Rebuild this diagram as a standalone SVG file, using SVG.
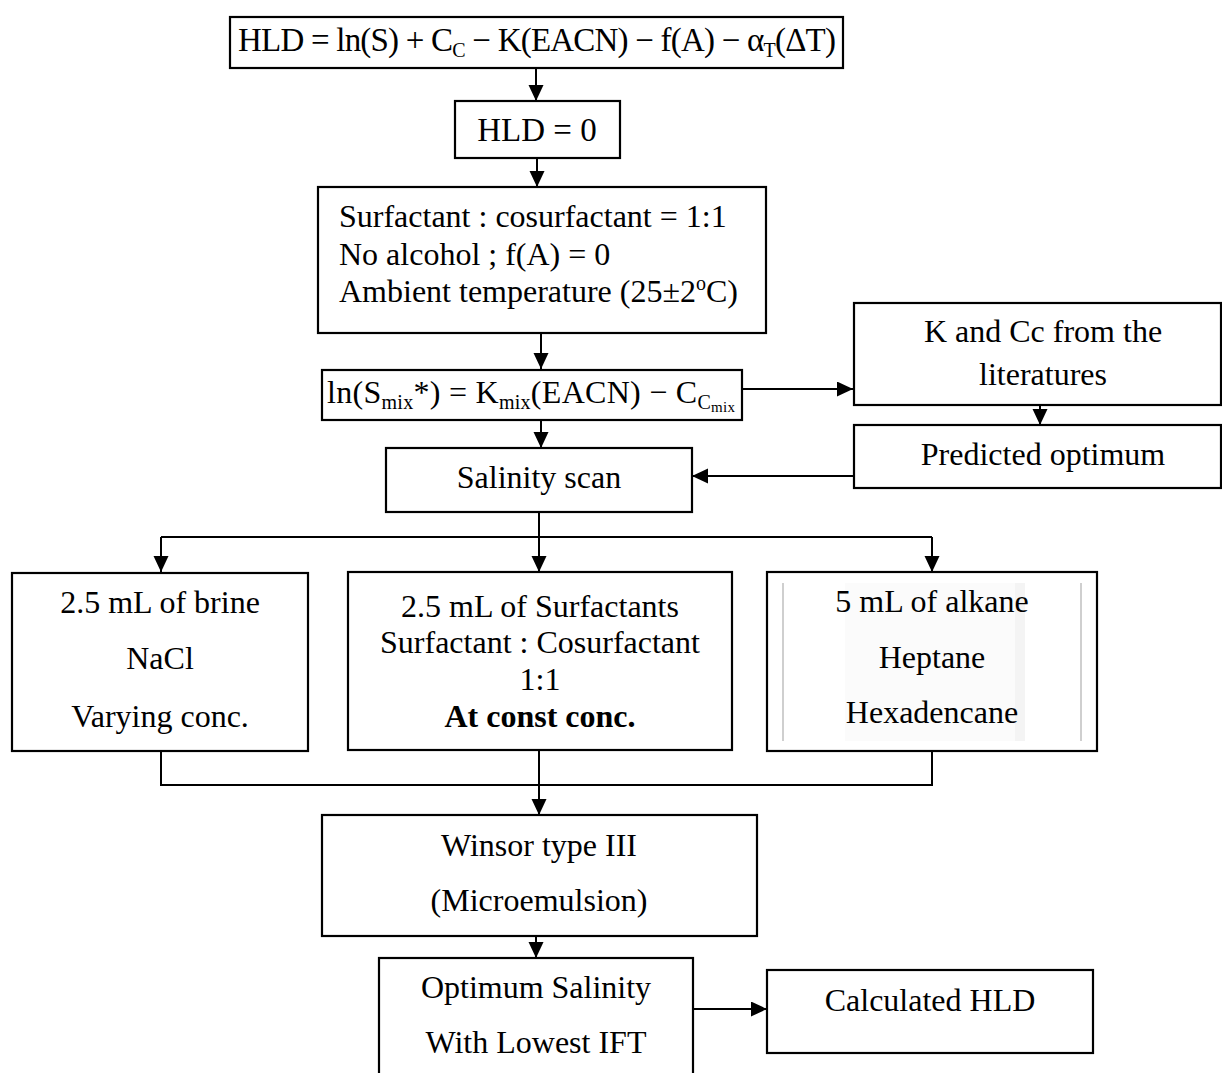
<svg xmlns="http://www.w3.org/2000/svg" width="1222" height="1073" viewBox="0 0 1222 1073">
<defs>
<marker id="ah" markerUnits="userSpaceOnUse" markerWidth="16" markerHeight="16" refX="16" refY="7.5" orient="auto">
<path d="M0,0 L16,7.5 L0,15 z" fill="#000"/>
</marker>
<style>
.box{fill:#fff;stroke:#000;stroke-width:2.2}
.t{font-family:"Liberation Serif","Times New Roman",serif;font-size:32px;fill:#000}
.c{text-anchor:middle}
.b{font-weight:bold}
.ln{fill:none;stroke:#000;stroke-width:2}
.ar{fill:none;stroke:#000;stroke-width:2;marker-end:url(#ah)}
.sub{font-size:20px}
.ghost{stroke:#cfcfcf;stroke-width:2}
</style>
</defs>
<rect width="1222" height="1073" fill="#fff"/>

<g id="connectors">
<line class="ar" x1="536" y1="68" x2="536" y2="101"/>
<line class="ar" x1="537" y1="158" x2="537" y2="187"/>
<line class="ar" x1="541" y1="333" x2="541" y2="369"/>
<line class="ar" x1="742" y1="389" x2="853" y2="389"/>
<line class="ar" x1="1040" y1="405" x2="1040" y2="425"/>
<line class="ar" x1="541" y1="420" x2="541" y2="448"/>
<line class="ar" x1="853" y1="476" x2="692" y2="476"/>
<line class="ar" x1="539" y1="512" x2="539" y2="572"/>
<line class="ln" x1="161" y1="537" x2="932" y2="537"/>
<line class="ar" x1="161" y1="537" x2="161" y2="572"/>
<line class="ar" x1="932" y1="537" x2="932" y2="572"/>
<polyline class="ln" points="161,751 161,785 932,785 932,751"/>
<line class="ar" x1="539" y1="750" x2="539" y2="815"/>
<line class="ar" x1="536" y1="936" x2="536" y2="958"/>
<line class="ar" x1="693" y1="1009" x2="767" y2="1009"/>
</g>

<g id="hld-formula">
<rect class="box" x="230" y="17" width="613" height="51"/>
<text class="t c" x="537" y="51" style="font-size:33px" textLength="598" lengthAdjust="spacing">HLD = ln(S) + C<tspan class="sub" dy="6">C</tspan><tspan dy="-6"> − K(EACN) − f(A) − α</tspan><tspan class="sub" dy="6">T</tspan><tspan dy="-6">(ΔT)</tspan></text>
</g>

<g id="hld-zero">
<rect class="box" x="455" y="101" width="165" height="57"/>
<text class="t c" x="537" y="141" style="font-size:33px">HLD = 0</text>
</g>

<g id="conditions">
<rect class="box" x="318" y="187" width="448" height="146"/>
<text class="t" x="339" y="227">Surfactant : cosurfactant = 1:1</text>
<text class="t" x="339" y="265">No alcohol ; f(A) = 0</text>
<text class="t" x="339" y="302">Ambient temperature (25±2<tspan class="sub" dy="-12">o</tspan><tspan dy="12">C)</tspan></text>
</g>

<g id="ln-formula">
<rect class="box" x="322" y="370" width="420" height="50"/>
<text class="t" x="327" y="403" textLength="408" lengthAdjust="spacing">ln(S<tspan class="sub" dy="6">mix</tspan><tspan dy="-6">*) = K</tspan><tspan class="sub" dy="6">mix</tspan><tspan dy="-6">(EACN) − C</tspan><tspan class="sub" dy="6">C</tspan><tspan style="font-size:15px" dy="3">mix</tspan></text>
</g>

<g id="k-cc">
<rect class="box" x="854" y="303" width="367" height="102"/>
<text class="t c" x="1043" y="342">K and Cc from the</text>
<text class="t c" x="1043" y="385">literatures</text>
</g>

<g id="predicted">
<rect class="box" x="854" y="425" width="367" height="63"/>
<text class="t c" x="1043" y="465">Predicted optimum</text>
</g>

<g id="salinity-scan">
<rect class="box" x="386" y="448" width="306" height="64"/>
<text class="t c" x="539" y="488">Salinity scan</text>
</g>

<g id="brine">
<rect class="box" x="12" y="573" width="296" height="178"/>
<text class="t c" x="160" y="613">2.5 mL of brine</text>
<text class="t c" x="160" y="669">NaCl</text>
<text class="t c" x="160" y="727">Varying conc.</text>
</g>

<g id="surfactants">
<rect class="box" x="348" y="572" width="384" height="178"/>
<text class="t c" x="540" y="617">2.5 mL of Surfactants</text>
<text class="t c" x="540" y="653">Surfactant : Cosurfactant</text>
<text class="t c" x="540" y="690">1:1</text>
<text class="t c b" x="540" y="727">At const conc.</text>
</g>

<g id="alkane">
<rect class="box" x="767" y="572" width="330" height="179"/>
<rect x="845" y="583" width="170" height="158" fill="#fbfbfb"/>
<rect x="1015" y="583" width="10" height="158" fill="#f4f4f4"/>
<line class="ghost" x1="783" y1="583" x2="783" y2="741"/>
<line class="ghost" x1="1081" y1="583" x2="1081" y2="741"/>
<text class="t c" x="932" y="612">5 mL of alkane</text>
<text class="t c" x="932" y="668">Heptane</text>
<text class="t c" x="932" y="723">Hexadencane</text>
</g>

<g id="winsor">
<rect class="box" x="322" y="815" width="435" height="121"/>
<text class="t c" x="539" y="856">Winsor type III</text>
<text class="t c" x="539" y="911">(Microemulsion)</text>
</g>

<g id="optimum">
<rect class="box" x="379" y="958" width="314" height="130"/>
<text class="t c" x="536" y="998">Optimum Salinity</text>
<text class="t c" x="536" y="1053">With Lowest IFT</text>
</g>

<g id="calculated">
<rect class="box" x="767" y="970" width="326" height="83"/>
<text class="t c" x="930" y="1011">Calculated HLD</text>
</g>
</svg>
